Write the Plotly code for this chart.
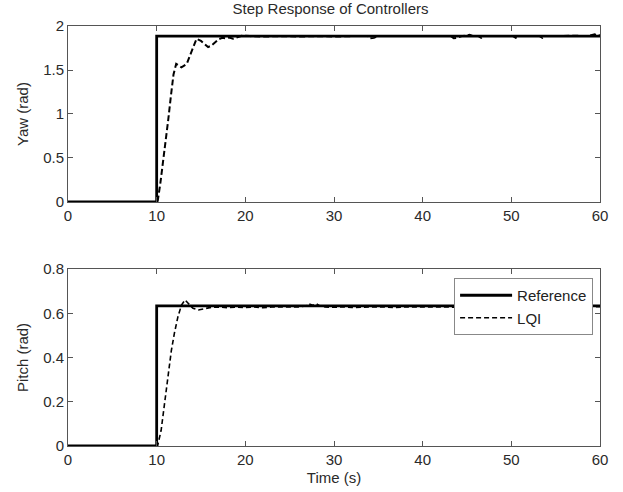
import plotly.graph_objects as go
from plotly.subplots import make_subplots

# Reference step commands
ref_t = [0, 10, 10, 60]
yaw_ref = [0, 0, 1.885, 1.885]
pitch_ref = [0, 0, 0.633, 0.633]

# LQI closed-loop yaw response
yaw_t = [0, 10.1, 10.4, 10.7, 11.0, 11.3, 11.6, 11.9, 12.2, 12.5, 12.8, 13.1,
         13.4, 13.7, 14.0, 14.5, 15.0, 15.4, 15.8, 16.2, 16.6, 17.0, 17.4,
         17.8, 18.2, 18.6, 19.0, 19.6, 20.5, 22, 24, 26, 28, 30, 32, 33.8,
         34.1, 34.5, 34.9, 36, 38, 40, 42, 43.2, 43.5, 43.9, 44.4, 44.9, 45.3,
         45.7, 46.3, 46.6, 46.9, 48, 50.2, 50.5, 50.8, 52, 53.2, 53.5, 53.8,
         55, 57, 58.6, 59.1, 59.4, 59.7, 60]
yaw_lqi = [0, 0, 0.2, 0.43, 0.7, 0.93, 1.2, 1.45, 1.57, 1.55, 1.53, 1.55,
           1.57, 1.65, 1.73, 1.855, 1.83, 1.80, 1.76, 1.78, 1.82, 1.85, 1.865,
           1.86, 1.87, 1.855, 1.87, 1.89, 1.885, 1.88, 1.885, 1.88, 1.885, 1.88,
           1.885, 1.885, 1.86, 1.865, 1.885, 1.885, 1.88, 1.885, 1.885, 1.885,
           1.86, 1.865, 1.885, 1.895, 1.9, 1.885, 1.885, 1.865, 1.885, 1.885,
           1.885, 1.865, 1.885, 1.885, 1.885, 1.865, 1.885, 1.885, 1.89, 1.885,
           1.895, 1.905, 1.89, 1.895]

# LQI closed-loop pitch response
pitch_t = [0, 10.1, 10.5, 10.9, 11.3, 11.65, 12.0, 12.4, 12.8, 13.2, 13.55,
           14.1, 14.7, 15.4, 16.2, 17, 18, 19, 20, 21, 22, 23, 24, 25, 26, 26.8,
           27.2, 27.6, 28.0, 28.4, 29, 30, 31, 32, 33, 34, 35, 36, 37, 38, 40,
           42, 44, 46, 48, 50, 52, 54, 56, 58, 60]
pitch_lqi = [0, 0, 0.07, 0.19, 0.33, 0.43, 0.51, 0.585, 0.637, 0.66, 0.645,
             0.622, 0.615, 0.622, 0.627, 0.628, 0.625, 0.628, 0.626, 0.628,
             0.625, 0.628, 0.627, 0.629, 0.628, 0.633, 0.642, 0.636, 0.643,
             0.633, 0.628, 0.627, 0.629, 0.626, 0.628, 0.627, 0.629, 0.628,
             0.626, 0.629, 0.628, 0.627, 0.629, 0.628, 0.627, 0.629, 0.628,
             0.627, 0.629, 0.628, 0.63]

x_ticks = [0, 10, 20, 30, 40, 50, 60]
yaw_ticks = [0, 0.5, 1, 1.5, 2]
pitch_ticks = [0, 0.2, 0.4, 0.6, 0.8]

FS = 15
TXT = "#2a2a2a"

fig = make_subplots(rows=2, cols=1, vertical_spacing=0.16)

fig.add_trace(go.Scatter(x=ref_t, y=yaw_ref, mode="lines", name="Reference",
                         line=dict(color="black", width=2.8),
                         showlegend=False), row=1, col=1)
fig.add_trace(go.Scatter(x=yaw_t, y=yaw_lqi, mode="lines", name="LQI",
                         line=dict(color="black", width=2, dash="6px,3px"),
                         showlegend=False), row=1, col=1)
fig.add_trace(go.Scatter(x=ref_t, y=pitch_ref, mode="lines", name="Reference",
                         legendgroup="ref",
                         line=dict(color="black", width=2.8)), row=2, col=1)
fig.add_trace(go.Scatter(x=pitch_t, y=pitch_lqi, mode="lines", name="LQI",
                         legendgroup="lqi",
                         line=dict(color="black", width=1.6, dash="5px,3px")),
              row=2, col=1)

axis_style = dict(showline=True, linecolor="#555", linewidth=1, mirror="ticks",
                  ticks="inside", ticklen=5, tickcolor="#555", showgrid=False,
                  zeroline=False, automargin=False,
                  tickfont=dict(size=FS, color=TXT))

fig.update_xaxes(range=[0, 60], tickvals=x_ticks, **axis_style)
fig.update_yaxes(**axis_style)

fig.update_yaxes(range=[0, 2], tickvals=yaw_ticks,
                 title=dict(text="Yaw (rad)", standoff=10,
                            font=dict(size=FS, color=TXT)),
                 domain=[0.581, 1.0], row=1, col=1)
fig.update_yaxes(range=[0, 0.8], tickvals=pitch_ticks,
                 title=dict(text="Pitch (rad)", standoff=10,
                            font=dict(size=FS, color=TXT)),
                 domain=[0.0, 0.4214], row=2, col=1)
fig.update_xaxes(title=dict(text="Time (s)", standoff=5,
                            font=dict(size=FS, color=TXT)),
                 row=2, col=1)

fig.update_layout(
    width=623, height=492,
    margin=dict(l=68, r=23, t=26, b=46),
    paper_bgcolor="white", plot_bgcolor="white",
    font=dict(family="Arial, Liberation Sans, sans-serif", color=TXT),
    title=dict(text="Step Response of Controllers", x=0.5305, xanchor="center",
               y=0.9817, yanchor="middle", yref="container",
               font=dict(size=FS, color=TXT)),
    legend=dict(x=0.987, xanchor="right", y=0.4, yanchor="top",
                bgcolor="white", bordercolor="#888", borderwidth=1,
                font=dict(size=FS, color="#222"), tracegroupgap=0,
                itemwidth=52),
)

fig.write_html("out.html")
